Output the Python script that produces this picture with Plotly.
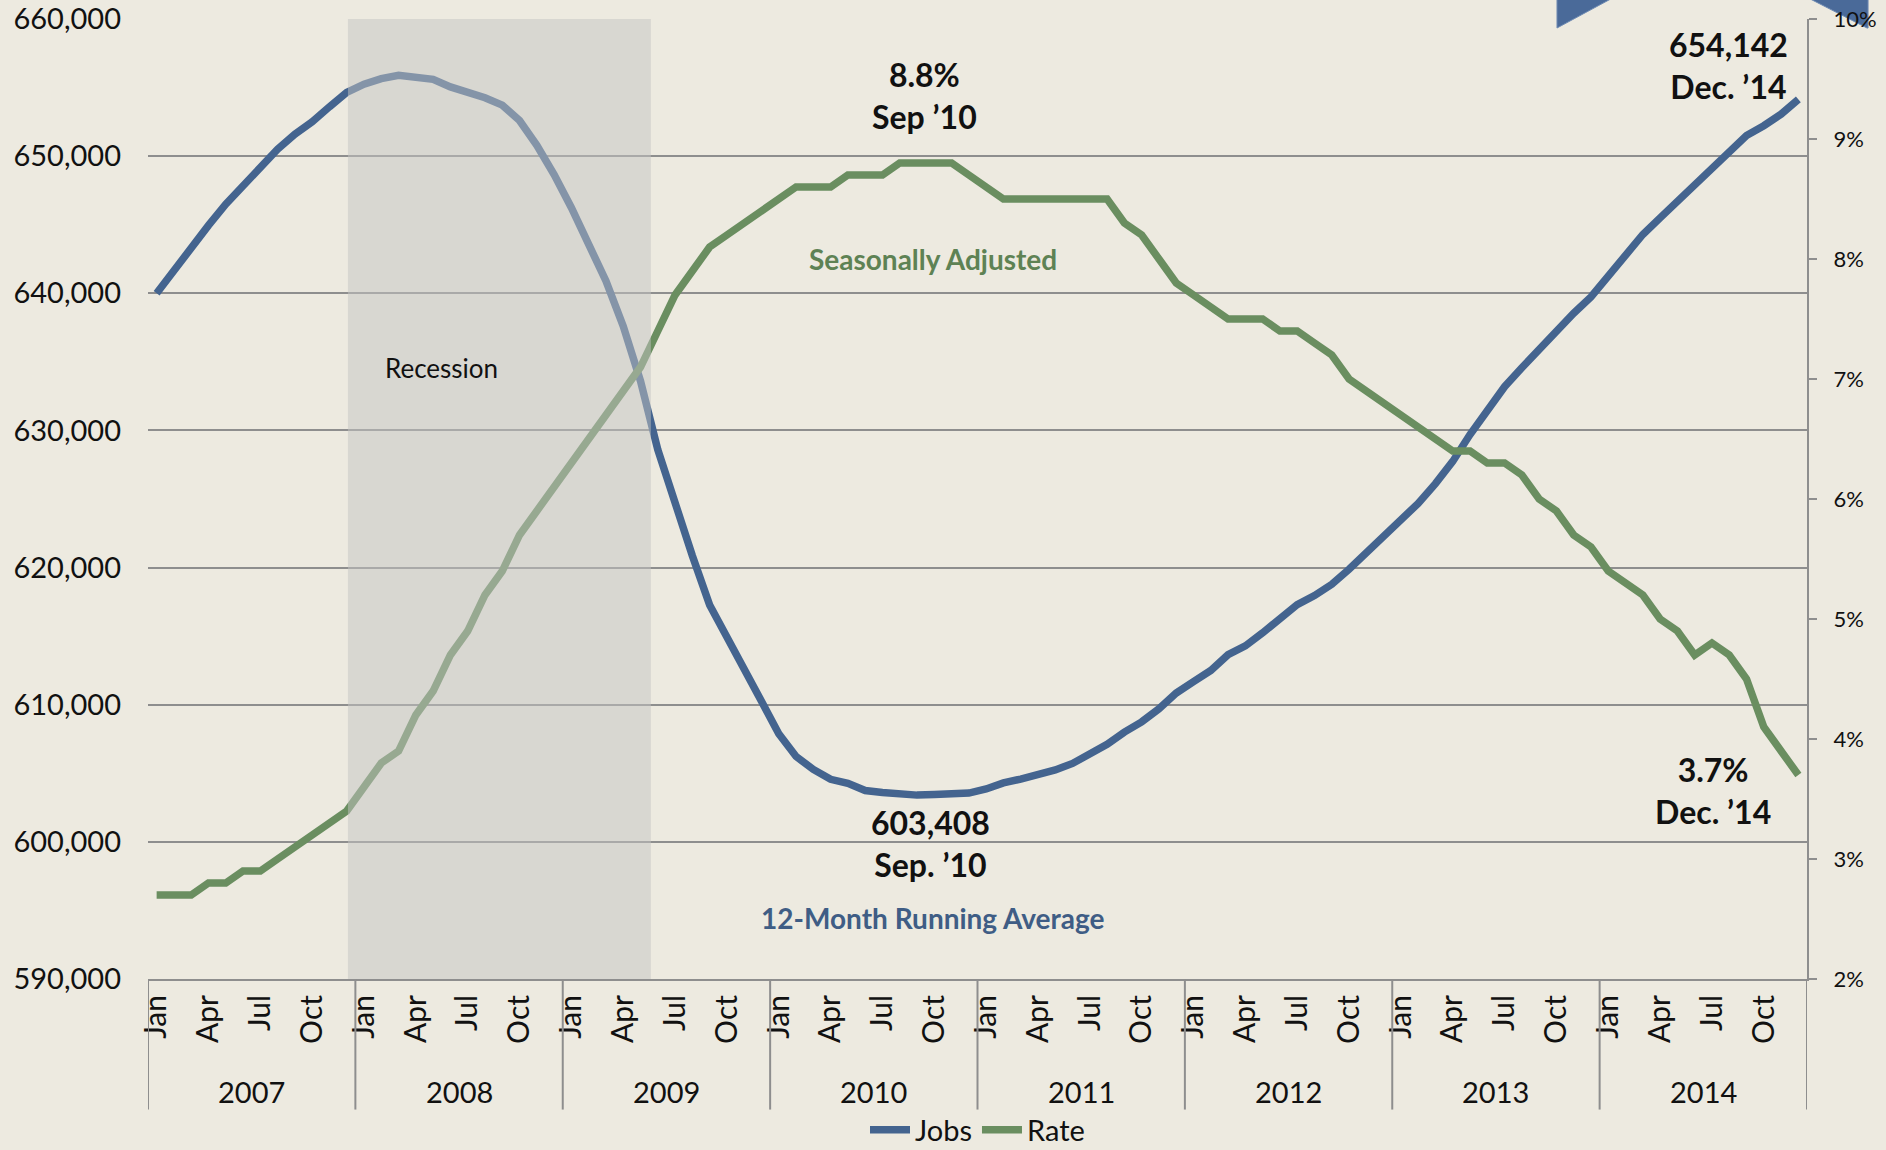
import plotly.graph_objects as go

# ---- data ----
years = [2007, 2008, 2009, 2010, 2011, 2012, 2013, 2014]
months = ["Jan", "Feb", "Mar", "Apr", "May", "Jun",
          "Jul", "Aug", "Sep", "Oct", "Nov", "Dec"]
shown_months = ["Jan", "Apr", "Jul", "Oct"]

# 12-month running average of jobs, Jan 2007 .. Dec 2014
jobs = [
    640000, 641700, 643350, 644950, 646500, 647900, 649200, 650500, 651600, 652500, 653600, 654650,
    655250, 655650, 655900, 655750, 655600, 655050, 654700, 654260, 653720, 652600, 650790, 648660,
    646240, 643420, 640900, 637600, 633600, 628600, 624620, 620860, 617270, 614840, 612540, 610250,
    607890, 606230, 605280, 604560, 604270, 603740, 603600, 603480, 603408, 603450, 603500, 603560,
    603860, 604300, 604580, 604900, 605240, 605720, 606420, 607120, 608000, 608750, 609700, 610850,
    611680, 612500, 613650, 614290, 615240, 616250, 617300, 617960, 618780, 619880, 621040, 622220,
    623390, 624680, 626120, 627740, 629700, 631500, 633190, 634570, 635900, 637270, 638550, 639730,
    641190, 642740, 644290, 645500, 646680, 647860, 649070, 650280, 651500, 652220, 653060, 654142,
]

# unemployment rate (%), seasonally adjusted
rate = [
    2.7, 2.7, 2.7, 2.8, 2.8, 2.9, 2.9, 3.0, 3.1, 3.2, 3.3, 3.4,
    3.6, 3.8, 3.9, 4.2, 4.4, 4.7, 4.9, 5.2, 5.4, 5.7, 5.9, 6.1,
    6.3, 6.5, 6.7, 6.9, 7.1, 7.4, 7.7, 7.9, 8.1, 8.2, 8.3, 8.4,
    8.5, 8.6, 8.6, 8.6, 8.7, 8.7, 8.7, 8.8, 8.8, 8.8, 8.8, 8.7,
    8.6, 8.5, 8.5, 8.5, 8.5, 8.5, 8.5, 8.5, 8.3, 8.2, 8.0, 7.8,
    7.7, 7.6, 7.5, 7.5, 7.5, 7.4, 7.4, 7.3, 7.2, 7.0, 6.9, 6.8,
    6.7, 6.6, 6.5, 6.4, 6.4, 6.3, 6.3, 6.2, 6.0, 5.9, 5.7, 5.6,
    5.4, 5.3, 5.2, 5.0, 4.9, 4.7, 4.8, 4.7, 4.5, 4.1, 3.9, 3.7,
]

# recession band, in month-index units (Dec 2007 .. mid 2009)
recession_span = [11.07, 28.6]

BLUE = "#44648f"
GREEN = "#6a8e60"
GRID = "#8e8e8e"
FONT = "Lato"

x = list(range(len(jobs)))
month_labels = [months[i % 12] for i in x]
tick_idx = [i for i in x if month_labels[i] in shown_months]

fig = go.Figure()

fig.add_trace(go.Scatter(
    x=x, y=jobs, name="Jobs", mode="lines",
    line=dict(color=BLUE, width=7.5),
))
fig.add_trace(go.Scatter(
    x=x, y=rate, name="Rate", mode="lines", yaxis="y2",
    line=dict(color=GREEN, width=7.5),
))

# recession band sits above the lines, washing them out
fig.add_shape(
    type="rect", xref="x", yref="paper",
    x0=recession_span[0], x1=recession_span[1], y0=0, y1=1,
    fillcolor="rgba(196,196,194,0.5)", line_width=0, layer="above",
)

# year dividers below the axis
for k in range(len(years) + 1):
    fig.add_shape(
        type="line", xref="x", yref="paper",
        x0=12 * k - 0.5, x1=12 * k - 0.5, y0=0, y1=-0.136,
        line=dict(color=GRID, width=2),
    )

# year labels
for k, yr in enumerate(years):
    fig.add_annotation(
        x=12 * k + 5.5, y=-0.1167, xref="x", yref="paper",
        yanchor="middle", text=str(yr), showarrow=False,
        font=dict(family=FONT, size=29, color="#111111"),
    )

# decorative chevron peeking in at top right (behind the tick labels)
fig.add_shape(
    type="path", xref="paper", yref="paper",
    path="M 0.8493,1.03 L 0.8493,0.9906 L 0.8915,1.03 Z "
         "M 0.9916,1.03 L 1.0362,0.9906 L 1.0368,0.9906 L 1.0368,1.03 Z",
    fillcolor="#4a6a99", line=dict(color="#6f8bb3", width=1), layer="below",
)

# callouts
bold = dict(family=FONT, size=32, color="#111111")
i_sep10 = years.index(2010) * 12 + months.index("Sep")
i_last = len(x) - 1

fig.add_annotation(x=i_sep10, y=rate[i_sep10], yref="y2", xref="x",
                   text="<b>%.1f%%<br>Sep ’10</b>" % rate[i_sep10],
                   showarrow=False, xshift=7, yshift=68, font=bold)
fig.add_annotation(x=i_sep10, y=jobs[i_sep10], yref="y", xref="x",
                   text="<b>{:,}<br>Sep. ’10</b>".format(jobs[i_sep10]),
                   showarrow=False, xshift=13, yshift=-48, font=bold)
fig.add_annotation(x=i_last, y=jobs[i_last], yref="y", xref="x",
                   text="<b>{:,}<br>Dec. ’14</b>".format(jobs[i_last]),
                   showarrow=False, xshift=-70, yshift=34, font=bold)
fig.add_annotation(x=i_last, y=rate[i_last], yref="y2", xref="x",
                   text="<b>%.1f%%<br>Dec. ’14</b>" % rate[i_last],
                   showarrow=False, xshift=-85, yshift=-15, font=bold)

fig.add_annotation(x=44.9, y=8.0, xref="x", yref="y2",
                   text="<b>Seasonally Adjusted</b>", showarrow=False,
                   font=dict(family=FONT, size=28, color="#5e8254"))
fig.add_annotation(x=44.9, y=594450, xref="x", yref="y",
                   text="<b>12-Month Running Average</b>", showarrow=False,
                   font=dict(family=FONT, size=28, color="#3f5d85"))
fig.add_annotation(x=16.5, y=634550, xref="x", yref="y",
                   text="Recession", showarrow=False,
                   font=dict(family=FONT, size=26, color="#111111"))

fig.update_layout(
    width=1886, height=1150,
    margin=dict(l=148, r=79, t=19, b=171, autoexpand=False),
    paper_bgcolor="#edeae0",
    plot_bgcolor="rgba(0,0,0,0)",
    font=dict(family=FONT, size=28, color="#111111"),
    showlegend=True,
    legend=dict(
        orientation="h", x=0.5, xanchor="center",
        yref="container", y=20 / 1150, yanchor="middle",
        font=dict(family=FONT, size=29, color="#111111"),
        bgcolor="rgba(0,0,0,0)", itemwidth=40, tracegroupgap=0,
    ),
    xaxis=dict(
        range=[-0.5, len(x) - 0.5],
        tickmode="array", tickvals=tick_idx,
        ticktext=[month_labels[i] for i in tick_idx],
        tickangle=-90, ticks="", ticklabelstandoff=2,
        showgrid=False, zeroline=False, automargin=False,
        showline=True, linecolor=GRID, linewidth=2,
        tickfont=dict(family=FONT, size=30, color="#111111"),
    ),
    yaxis=dict(
        range=[590000, 660000], dtick=10000, tickformat=",",
        showgrid=True, gridcolor=GRID, gridwidth=2,
        zeroline=False, showline=False, ticks="", automargin=False,
        ticklabelstandoff=26,
        tickfont=dict(family=FONT, size=29, color="#111111"),
    ),
    yaxis2=dict(
        range=[2, 10], dtick=1, ticksuffix="%",
        overlaying="y", side="right", automargin=False,
        showgrid=False, zeroline=False,
        showline=True, linecolor=GRID, linewidth=2,
        ticks="outside", ticklen=8, tickcolor=GRID, tickwidth=2,
        ticklabelstandoff=12,
        tickfont=dict(family=FONT, size=22, color="#111111"),
    ),
)

fig.write_html(
    "out.html",
    config={"displayModeBar": False},
    post_script="document.body.style.margin='0';document.body.style.overflow='hidden';",
)
